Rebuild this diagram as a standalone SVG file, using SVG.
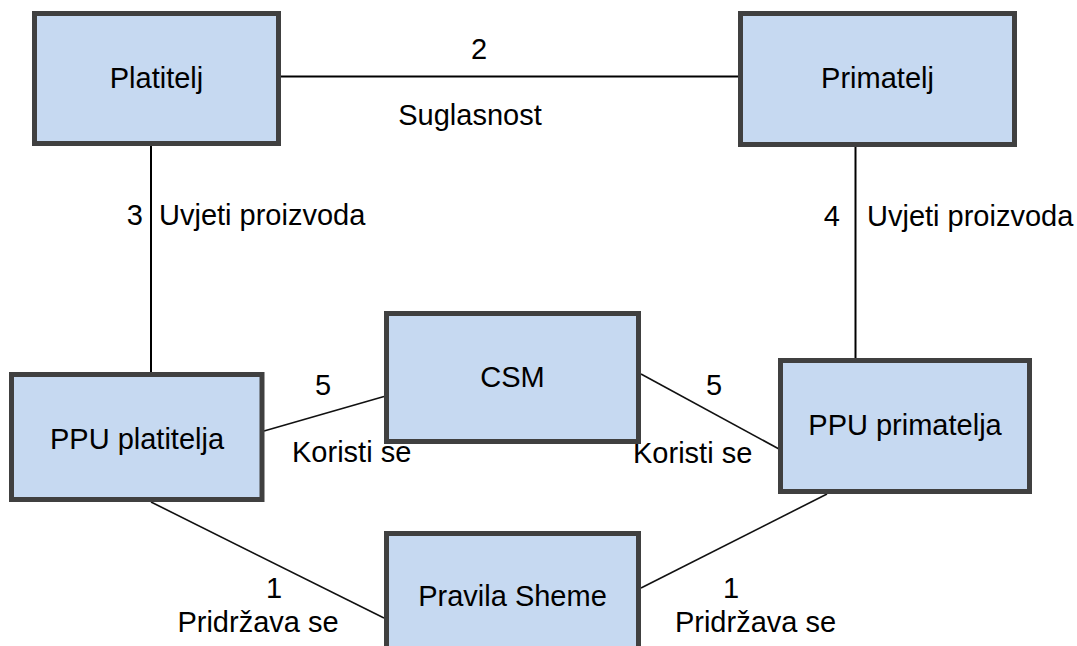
<svg xmlns="http://www.w3.org/2000/svg" width="1077" height="646" viewBox="0 0 1077 646">
<style>
.box{fill:#c6d9f1;stroke:#404040;stroke-width:5}
.t{font-family:"Liberation Sans",Arial,sans-serif;font-size:29px;fill:#000}
.m{text-anchor:middle}
.c{stroke:#000;stroke-width:2;fill:none}
.d{stroke:#111;stroke-width:1.6;fill:none}
</style>
<rect width="1077" height="646" fill="#fff"/>
<g id="connectors">
<line class="c" x1="281" y1="76.5" x2="738" y2="76.5"/>
<line class="c" x1="151" y1="146" x2="151" y2="372"/>
<line class="c" x1="855.5" y1="147" x2="855.5" y2="358"/>
<line class="d" x1="264" y1="431" x2="384" y2="396.5"/>
<line class="d" x1="641" y1="374" x2="779" y2="449"/>
<line class="d" x1="151" y1="502" x2="384" y2="618"/>
<line class="d" x1="641" y1="588" x2="827" y2="494"/>
<text class="t m" x="479" y="59">2</text>
<text class="t m" x="470" y="125">Suglasnost</text>
<text class="t" x="143" y="225" text-anchor="end">3</text>
<text class="t" x="159" y="225">Uvjeti proizvoda</text>
<text class="t" x="840" y="226" text-anchor="end">4</text>
<text class="t" x="867" y="226">Uvjeti proizvoda</text>
<text class="t m" x="323" y="395">5</text>
<text class="t" x="292" y="462">Koristi se</text>
<text class="t m" x="714" y="395">5</text>
<text class="t" x="633" y="463">Koristi se</text>
<text class="t m" x="274" y="598">1</text>
<text class="t m" x="258" y="632">Pridržava se</text>
<text class="t m" x="731" y="598">1</text>
<text class="t m" x="755.5" y="632">Pridržava se</text>
</g>
<g id="platitelj">
<rect class="box" x="34.5" y="13.5" width="244" height="130"/>
<text class="t m" x="156.5" y="88">Platitelj</text>
</g>
<g id="primatelj">
<rect class="box" x="740.5" y="13.5" width="274" height="131"/>
<text class="t m" x="877.5" y="88">Primatelj</text>
</g>
<g id="csm">
<rect class="box" x="386.5" y="313.5" width="252" height="128"/>
<text class="t m" x="512.5" y="387">CSM</text>
</g>
<g id="ppu-platitelja">
<rect class="box" x="11.5" y="374.5" width="250.5" height="125"/>
<text class="t m" x="137" y="449">PPU platitelja</text>
</g>
<g id="ppu-primatelja">
<rect class="box" x="780.5" y="360.5" width="249" height="131"/>
<text class="t m" x="905" y="435">PPU primatelja</text>
</g>
<g id="pravila-sheme">
<rect class="box" x="386.5" y="533.5" width="252" height="130"/>
<text class="t m" x="512.5" y="606">Pravila Sheme</text>
</g>
</svg>
